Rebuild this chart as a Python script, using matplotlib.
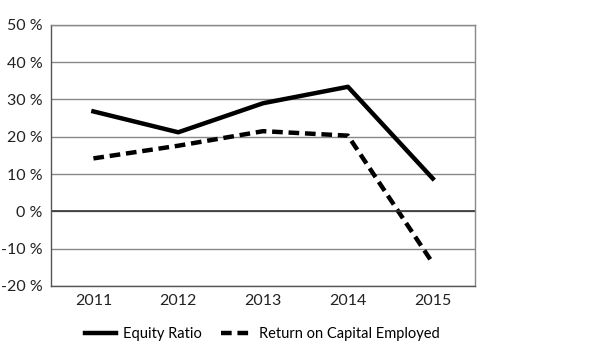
import matplotlib.pyplot as plt

years = ["2011", "2012", "2013", "2014", "2015"]
equity_ratio = [26.8, 21.2, 29.0, 33.4, 8.8]
roce = [14.2, 17.6, 21.5, 20.3, -13.9]
y_ticks = [-20, -10, 0, 10, 20, 30, 40, 50]

plt.rcParams['font.family'] = ['Lato', 'DejaVu Sans']

fig = plt.figure(figsize=(6, 3.61), dpi=100)
ax = fig.add_axes([0.085, 0.208, 0.707, 0.723])

x = range(len(years))
ax.plot(x, equity_ratio, color='black', linewidth=3.2, label='Equity Ratio')
ax.plot(x, roce, color='black', linewidth=3.2, linestyle=(0, (2.4, 1.3)),
        label='Return on Capital Employed')

ax.set_xlim(-0.5, 4.5)
ax.set_ylim(-20, 50)
ax.set_yticks(y_ticks)
ax.set_yticklabels([f"{v} %" for v in y_ticks])
ax.set_xticks(list(x))
ax.set_xticklabels(years)
ax.tick_params(length=0, labelsize=11.5, colors='#222222', pad=6)

ax.grid(axis='y', color='#888888', linewidth=1)
ax.axhline(0, color='#333333', linewidth=1.2)
ax.set_axisbelow(True)
for side in ax.spines:
    ax.spines[side].set_color('#888888')
    ax.spines[side].set_linewidth(1)
ax.spines['left'].set_color('#555555')
ax.spines['bottom'].set_color('#555555')

fig.legend(loc='lower center', bbox_to_anchor=(0.4375, 0.02), ncol=2, frameon=False,
           fontsize=10.5, handlelength=2.1, columnspacing=1.3, handletextpad=0.5)

fig.savefig('out.png', dpi=100)
